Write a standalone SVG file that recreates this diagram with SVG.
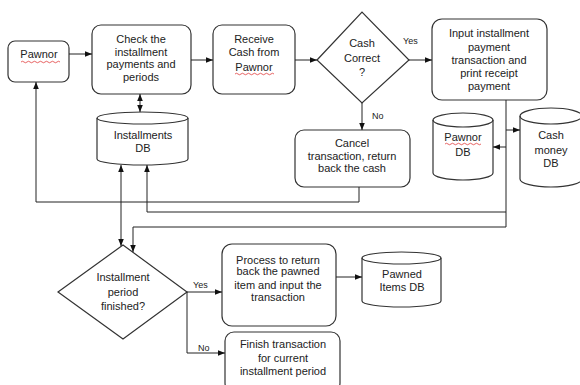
<svg xmlns="http://www.w3.org/2000/svg" width="580" height="385" viewBox="0 0 580 385">
<style>
.box{fill:#fff;stroke:#333;stroke-width:1.2}
.t{font-family:"Liberation Sans",Arial,sans-serif;font-size:11px;fill:#222;text-anchor:middle}
.s{font-family:"Liberation Sans",Arial,sans-serif;font-size:9px;fill:#222}
.c{fill:none;stroke:#222;stroke-width:1}
.sq{fill:none;stroke:#d22;stroke-width:0.7}
</style>
<defs>
<marker id="ah" viewBox="0 0 10 10" refX="10" refY="5" markerWidth="7" markerHeight="7" orient="auto-start-reverse" markerUnits="userSpaceOnUse"><path d="M0,1 L10,5 L0,9 Z" fill="#111"/></marker>
</defs>
<rect width="580" height="385" fill="#fff"/>

<g id="pawnor"><rect class="box" x="8" y="41" width="61" height="41" rx="7"/><text class="t" x="39" y="58">Pawnor</text><path class="sq" d="M21,62 q1.5,-1.5 3,0 t3,0 t3,0 t3,0 t3,0 t3,0 t3,0 t3,0 t3,0 t3,0 t3,0 t3,0 t3,0"/></g>

<g id="check"><rect class="box" x="92" y="25" width="99" height="69" rx="9"/><text class="t" x="141" y="43">Check the</text><text class="t" x="141" y="56">installment</text><text class="t" x="141" y="68">payments and</text><text class="t" x="141" y="81">periods</text></g>

<g id="receive"><rect class="box" x="213" y="25" width="82" height="69" rx="9"/><text class="t" x="254" y="43">Receive</text><text class="t" x="254" y="56">Cash from</text><text class="t" x="254" y="71">Pawnor</text><path class="sq" d="M235,74 q1.5,-1.5 3,0 t3,0 t3,0 t3,0 t3,0 t3,0 t3,0 t3,0 t3,0 t3,0 t3,0 t3,0 t3,0"/></g>

<g id="cashcorrect"><polygon class="box" points="317,60 362,12 409,60 362,103"/><text class="t" x="362" y="47">Cash</text><text class="t" x="362" y="62">Correct</text><text class="t" x="362" y="76">?</text></g>

<g id="input"><rect class="box" x="432" y="19" width="115" height="81" rx="10"/><text class="t" x="489" y="37">Input installment</text><text class="t" x="489" y="51">payment</text><text class="t" x="489" y="64">transaction and</text><text class="t" x="489" y="77">print receipt</text><text class="t" x="489" y="90">payment</text></g>

<g id="cancel"><rect class="box" x="295" y="130" width="115" height="57" rx="9"/><text class="t" x="352" y="147">Cancel</text><text class="t" x="352" y="160">transaction, return</text><text class="t" x="352" y="172">back the cash</text></g>

<g id="installmentsdb"><path class="box" d="M97,118 A45.5,6 0 0 1 188,118 L188,159 A45.5,6 0 0 1 97,159 Z"/><path class="c" style="stroke:#333;stroke-width:1.2" d="M97,118 A45.5,6 0 0 0 188,118"/><text class="t" x="143" y="139">Installments</text><text class="t" x="143" y="152">DB</text></g>

<g id="pawnordb"><path class="box" d="M433,120 A30,7 0 0 1 493,120 L493,173 A30,7 0 0 1 433,173 Z"/><path class="c" style="stroke:#333;stroke-width:1.2" d="M433,120 A30,7 0 0 0 493,120"/><text class="t" x="463" y="141">Pawnor</text><path class="sq" d="M445,144 q1.5,-1.5 3,0 t3,0 t3,0 t3,0 t3,0 t3,0 t3,0 t3,0 t3,0 t3,0 t3,0 t3,0"/><text class="t" x="463" y="156">DB</text></g>

<g id="cashmoneydb"><path class="box" d="M520,116 A31,8 0 0 1 582,116 L582,179 A31,8 0 0 1 520,179 Z"/><path class="c" style="stroke:#333;stroke-width:1.2" d="M520,116 A31,8 0 0 0 582,116"/><text class="t" x="551" y="139">Cash</text><text class="t" x="551" y="154">money</text><text class="t" x="551" y="167">DB</text></g>

<g id="periodfinished"><polygon class="box" points="58,292 123,245 187,292 123,339"/><text class="t" x="123" y="281">Installment</text><text class="t" x="123" y="296">period</text><text class="t" x="123" y="310">finished?</text></g>

<g id="process"><rect class="box" x="222" y="244" width="114" height="82" rx="10"/><text class="t" x="278" y="264">Process to return</text><text class="t" x="278" y="275">back the pawned</text><text class="t" x="278" y="289">item and input the</text><text class="t" x="278" y="301">transaction</text></g>

<g id="pawneditemsdb"><path class="box" d="M362,258 A39.5,6 0 0 1 441,258 L441,301 A39.5,6 0 0 1 362,301 Z"/><path class="c" style="stroke:#333;stroke-width:1.2" d="M362,258 A39.5,6 0 0 0 441,258"/><text class="t" x="402" y="278">Pawned</text><text class="t" x="402" y="291">Items DB</text></g>

<g id="finish"><rect class="box" x="225" y="332" width="115" height="60" rx="9"/><text class="t" x="283" y="348">Finish transaction</text><text class="t" x="283" y="362">for current</text><text class="t" x="283" y="375">installment period</text></g>

<g id="connectors">
<path class="c" marker-end="url(#ah)" d="M69,54 L92,54"/>
<path class="c" marker-end="url(#ah)" d="M191,60 L213,60"/>
<path class="c" marker-end="url(#ah)" d="M295,60 L317,60"/>
<path class="c" marker-end="url(#ah)" d="M409,60 L432,60"/>
<path class="c" marker-end="url(#ah)" d="M362,103 L362,130"/>
<path class="c" marker-start="url(#ah)" marker-end="url(#ah)" d="M140,94 L140,112"/>
<path class="c" d="M506,100 L506,227"/>
<path class="c" marker-end="url(#ah)" d="M506,130 L520,130"/>
<path class="c" marker-end="url(#ah)" d="M506,147 L493,147"/>
<path class="c" marker-end="url(#ah)" d="M359,187 L359,202 L36,202 L36,82"/>
<path class="c" marker-end="url(#ah)" d="M506,212 L147,212 L147,165"/>
<path class="c" marker-end="url(#ah)" d="M506,227 L133,227 L133,252"/>
<path class="c" marker-start="url(#ah)" marker-end="url(#ah)" d="M121,165 L121,246"/>
<path class="c" marker-end="url(#ah)" d="M187,292 L222,292"/>
<path class="c" marker-end="url(#ah)" d="M187,292 L187,353 L225,353"/>
<path class="c" marker-end="url(#ah)" d="M336,277 L362,277"/>
<text class="s" x="403" y="44">Yes</text>
<text class="s" x="372" y="119">No</text>
<text class="s" x="193" y="288">Yes</text>
<text class="s" x="198" y="351">No</text>
</g>
</svg>
